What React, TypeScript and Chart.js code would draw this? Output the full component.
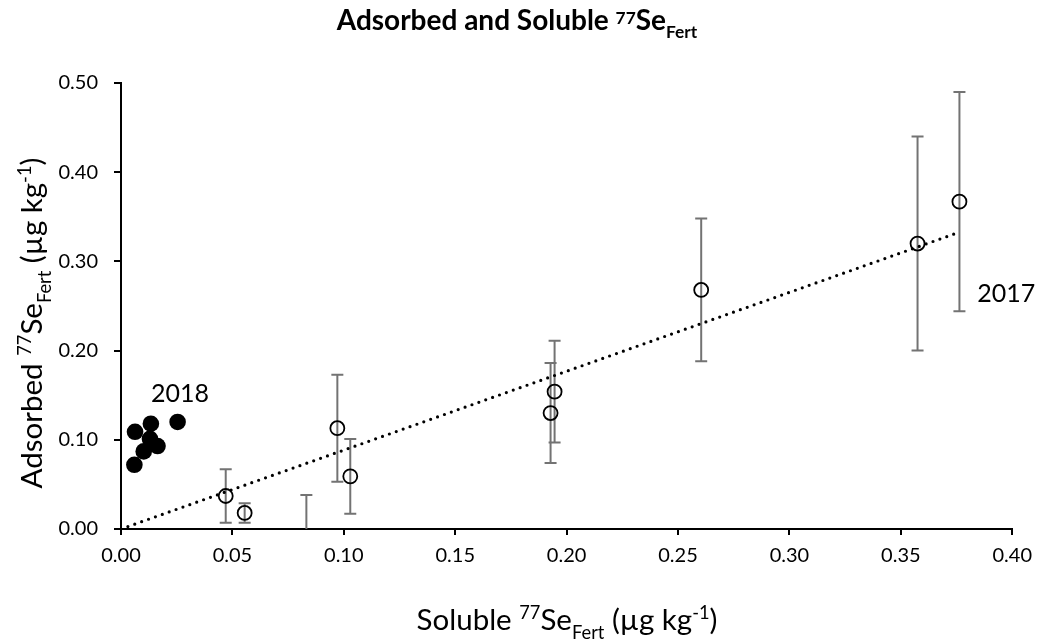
import React, { useEffect, useRef } from "react";
import { Chart, registerables } from "chart.js";

Chart.register(...registerables);

// ---- Data ----
const solubleX2017 = [0.047, 0.0555, 0.0832, 0.0971, 0.1029, 0.1928, 0.1946, 0.2604, 0.3575, 0.3763];
const adsorbedY2017 = [0.037, 0.018, -0.02, 0.113, 0.059, 0.13, 0.154, 0.268, 0.32, 0.367];
const adsorbedErr2017 = [0.03, 0.011, 0.058, 0.06, 0.042, 0.056, 0.057, 0.08, 0.12, 0.123];

const solubleX2018 = [0.006, 0.0063, 0.0134, 0.0102, 0.0164, 0.013, 0.0254];
const adsorbedY2018 = [0.072, 0.109, 0.118, 0.087, 0.093, 0.101, 0.12];

const trendX = [0, 0.3754];
const trendY = [0, 0.332];

const xTickValues = [0, 0.05, 0.1, 0.15, 0.2, 0.25, 0.3, 0.35, 0.4];
const yTickValues = [0, 0.1, 0.2, 0.3, 0.4, 0.5];

const yearLabels = ["2018", "2017"];
const yearLabelPos = [
  { x: 0.0135, y: 0.1425 },
  { x: 0.3843, y: 0.2548 },
];

const FONT = "Lato, 'Open Sans', 'DejaVu Sans', sans-serif";

type Seg = { t: string; k?: "sup" | "sub" };

const titleSegs: Seg[] = [
  { t: "Adsorbed and Soluble " },
  { t: "77", k: "sup" },
  { t: "Se" },
  { t: "Fert", k: "sub" },
];
const xTitleSegs: Seg[] = [
  { t: "Soluble " },
  { t: "77", k: "sup" },
  { t: "Se" },
  { t: "Fert", k: "sub" },
  { t: " (µg kg" },
  { t: "-1", k: "sup" },
  { t: ")" },
];
const yTitleSegs: Seg[] = [
  { t: "Adsorbed " },
  { t: "77", k: "sup" },
  { t: "Se" },
  { t: "Fert", k: "sub" },
  { t: " (µg kg" },
  { t: "-1", k: "sup" },
  { t: ")" },
];

function drawRich(
  ctx: CanvasRenderingContext2D,
  segs: Seg[],
  cx: number,
  baseline: number,
  size: number,
  weight: string,
  supShift: number,
  subShift: number
) {
  const small = size * 0.62;
  const fontFor = (s: Seg) => `${weight} ${s.k ? small : size}px ${FONT}`;
  let total = 0;
  for (const s of segs) {
    ctx.font = fontFor(s);
    total += ctx.measureText(s.t).width;
  }
  let x = cx - total / 2;
  ctx.textAlign = "left";
  ctx.textBaseline = "alphabetic";
  for (const s of segs) {
    ctx.font = fontFor(s);
    let y = baseline;
    if (s.k === "sup") y -= size * supShift;
    if (s.k === "sub") y += size * subShift;
    ctx.fillText(s.t, x, y);
    x += ctx.measureText(s.t).width;
  }
}

const decorPlugin = {
  id: "decor",
  beforeDatasetsDraw(chart: any) {
    const { ctx, chartArea, scales } = chart;
    const xs = scales.x;
    const ys = scales.y;
    ctx.save();
    ctx.beginPath();
    ctx.rect(chartArea.left, chartArea.top, chartArea.right - chartArea.left, chartArea.bottom - chartArea.top);
    ctx.clip();
    ctx.strokeStyle = "#737373";
    ctx.lineWidth = 2;
    const cap = 6;
    for (let i = 0; i < solubleX2017.length; i++) {
      const px = xs.getPixelForValue(solubleX2017[i]);
      const top = ys.getPixelForValue(adsorbedY2017[i] + adsorbedErr2017[i]);
      const bot = ys.getPixelForValue(adsorbedY2017[i] - adsorbedErr2017[i]);
      ctx.beginPath();
      ctx.moveTo(px, top);
      ctx.lineTo(px, bot);
      ctx.moveTo(px - cap, top);
      ctx.lineTo(px + cap, top);
      ctx.moveTo(px - cap, bot);
      ctx.lineTo(px + cap, bot);
      ctx.stroke();
    }
    ctx.restore();
  },
  afterDraw(chart: any) {
    const { ctx, scales } = chart;
    ctx.save();
    ctx.fillStyle = "#000";
    // Title
    drawRich(ctx, titleSegs, 517, 30, 28, "bold", 0.22, 0.3);
    // X axis title
    drawRich(ctx, xTitleSegs, 567, 630, 29.5, "normal", 0.36, 0.3);
    // Y axis title
    ctx.save();
    ctx.translate(42, 323);
    ctx.rotate(-Math.PI / 2);
    drawRich(ctx, yTitleSegs, 0, 0, 29.5, "normal", 0.36, 0.3);
    ctx.restore();
    // Year labels
    ctx.font = `25px ${FONT}`;
    ctx.textAlign = "left";
    ctx.textBaseline = "alphabetic";
    for (let i = 0; i < yearLabels.length; i++) {
      ctx.fillText(
        yearLabels[i],
        scales.x.getPixelForValue(yearLabelPos[i].x),
        scales.y.getPixelForValue(yearLabelPos[i].y)
      );
    }
    ctx.restore();
  },
};

export default function App() {
  const ref = useRef<HTMLCanvasElement | null>(null);
  useEffect(() => {
    if (!ref.current) return;
    const chart = new Chart(ref.current, {
      type: "scatter",
      data: {
        datasets: [
          {
            label: "2017",
            data: solubleX2017.map((x, i) => ({ x, y: adsorbedY2017[i] })),
            pointRadius: 7,
            pointBorderWidth: 1.8,
            pointBorderColor: "#000",
            pointBackgroundColor: "rgba(0,0,0,0)",
            showLine: false,
            order: 0,
          },
          {
            label: "2018",
            data: solubleX2018.map((x, i) => ({ x, y: adsorbedY2018[i] })),
            pointRadius: 8.3,
            pointBorderWidth: 0,
            pointBackgroundColor: "#000",
            pointBorderColor: "#000",
            showLine: false,
            order: 0,
          },
          {
            label: "Trend",
            data: trendX.map((x, i) => ({ x, y: trendY[i] })),
            showLine: true,
            borderColor: "#000",
            borderWidth: 3.2,
            borderDash: [0, 7.3],
            borderCapStyle: "round",
            pointRadius: 0,
            fill: false,
            order: 1,
          },
        ],
      },
      options: {
        responsive: false,
        animation: false,
        events: [],
        layout: { padding: { top: 83, right: 26, bottom: 74, left: 0 } },
        plugins: {
          legend: { display: false },
          title: { display: false },
          tooltip: { enabled: false },
        },
        scales: {
          x: {
            type: "linear",
            min: 0,
            max: 0.4,
            afterBuildTicks: (s: any) => {
              s.ticks = xTickValues.map((v) => ({ value: v }));
            },
            afterFit: (s: any) => {
              s.height = 40;
            },
            ticks: {
              callback: (v: any) => Number(v).toFixed(2),
              font: { family: FONT, size: 20 },
              color: "#000",
              padding: 9,
              maxRotation: 0,
            },
            grid: { drawOnChartArea: false, drawTicks: true, tickLength: 6, color: "#000", lineWidth: 2 },
            border: { display: true, color: "#000", width: 2 },
          },
          y: {
            type: "linear",
            min: 0,
            max: 0.5,
            afterBuildTicks: (s: any) => {
              s.ticks = yTickValues.map((v) => ({ value: v }));
            },
            afterFit: (s: any) => {
              s.width = 121;
            },
            ticks: {
              callback: (v: any) => Number(v).toFixed(2),
              font: { family: FONT, size: 20 },
              color: "#000",
              padding: 16,
            },
            grid: { drawOnChartArea: false, drawTicks: true, tickLength: 7, color: "#000", lineWidth: 2 },
            border: { display: true, color: "#000", width: 2 },
          },
        },
      },
      plugins: [decorPlugin],
    } as any);
    return () => chart.destroy();
  }, []);
  return (
    <div style={{ position: "fixed", left: 0, top: 0, width: 1041, height: 643, background: "#fff" }}>
      <canvas ref={ref} width={1041} height={643} style={{ display: "block", width: 1041, height: 643 }} />
    </div>
  );
}
